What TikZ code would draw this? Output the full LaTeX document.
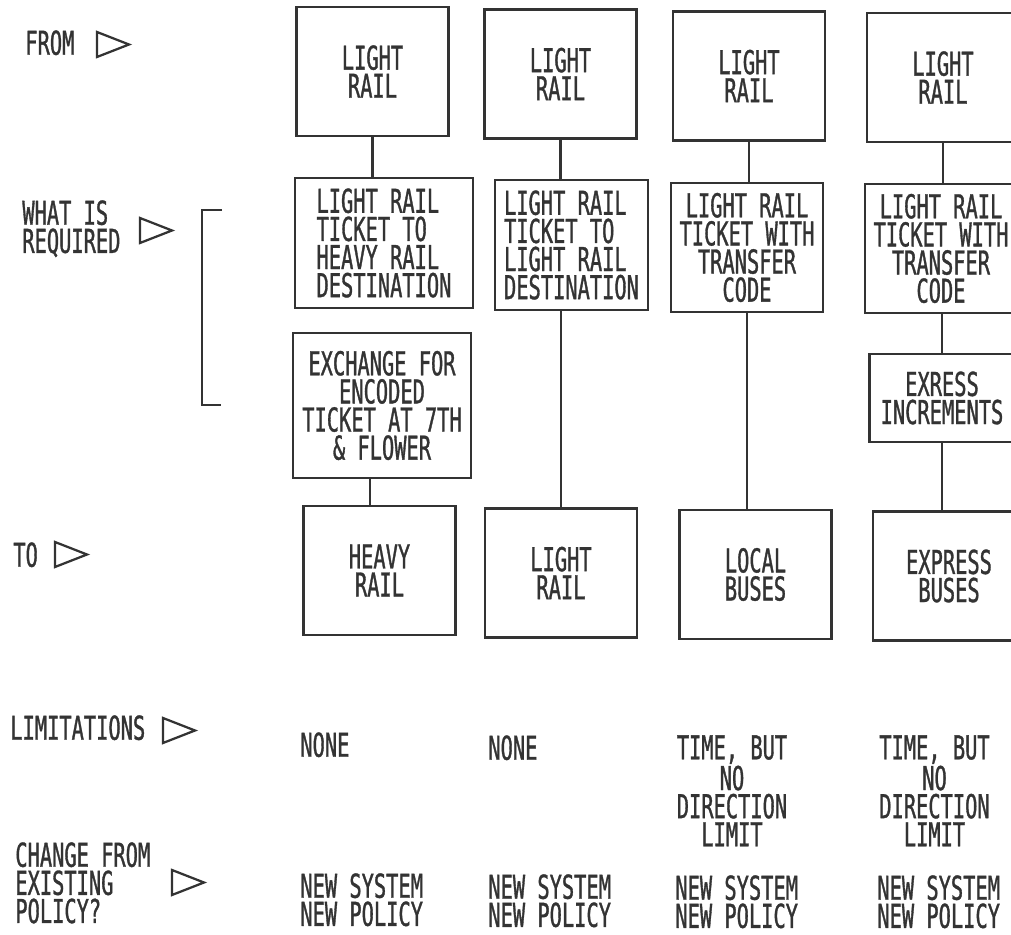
\documentclass[tikz,border=0pt]{standalone}
\usepackage{fontspec}
\setmainfont{DejaVu Sans Mono}[FakeStretch=0.62,FakeBold=1]
\definecolor{ink}{gray}{0.2}
\tikzset{mode/.style={rectangle,draw=ink,line width=0.045cm,minimum width=3.04cm,minimum height=2.58cm,inner sep=0pt,align=center},
    wide mode/.style={mode,minimum width=3.56cm},
    lbl/.style={inner sep=0pt,anchor=north west,align=left},
    link/.style={line width=0.045cm},
    pointer/.pic={\draw[line width=0.045cm,line join=miter] (0,0) -- (32,12.5) -- (0,25) -- cycle;}}

\begin{document}
\begin{tikzpicture}[x=0.02cm,y=-0.02cm,color=ink,font=\fontsize{18.7}{16}\selectfont]
    \useasboundingbox (0,0) rectangle (1011,935);

    % from
    \node [mode] (from1) at (372.5,71.5) {LIGHT\\RAIL};
    \node [mode] (from2) at (560.5,74) {LIGHT\\RAIL};
    \node [mode] (from3) at (749,76) {LIGHT\\RAIL};
    \node [mode] (from4) at (943,77.5) {LIGHT\\RAIL};

    % what is required
    \node [wide mode, minimum height=2.6cm, align=left] (need1) at (384,243) {LIGHT RAIL\\TICKET TO\\HEAVY RAIL\\DESTINATION};
    \node [mode, minimum width=3.06cm, minimum height=2.6cm, align=left] (need2) at (571.5,245) {LIGHT RAIL\\TICKET TO\\LIGHT RAIL\\DESTINATION};
    \node [mode] (need3) at (747,247.5) {LIGHT RAIL\\TICKET WITH\\TRANSFER\\CODE};
    \node [mode] (need4) at (941,248.5) {LIGHT RAIL\\TICKET WITH\\TRANSFER\\CODE};
    \node [wide mode, minimum height=2.9cm] (swap1) at (382,405.5) {EXCHANGE FOR\\ENCODED\\TICKET AT 7TH\\\& FLOWER};
    \node [mode, minimum width=2.9cm, minimum height=1.76cm] (incr4) at (942,398) {EXRESS\\INCREMENTS};

    % to
    \node [mode] (to1) at (379.5,570.5) {HEAVY\\RAIL};
    \node [mode] (to2) at (561,573) {LIGHT\\RAIL};
    \node [mode] (to3) at (755.5,574.5) {LOCAL\\BUSES};
    \node [mode] (to4) at (949,576) {EXPRESS\\BUSES};

    \foreach \c in {1,...,4}
        \draw [link] (from\c.south) -- (from\c.south |- need\c.north);
    \draw [link] ([xshift=-0.24cm]swap1.south) -- ([xshift=-0.24cm]swap1.south |- to1.north);
    \draw [link] (need2.south -| to2.north) -- (to2.north);
    \draw [link] (need3.south) -- (need3.south |- to3.north);
    \draw [link] (need4.south -| incr4.north) -- (incr4.north);
    \draw [link] (incr4.south) -- (incr4.south |- to4.north);

    % row labels
    \node [lbl] (fromlabel) at (25,30) {FROM};
    \pic at (97,32) {pointer};
    \node [lbl] (needlabel) at (22,200) {WHAT IS\\REQUIRED};
    \pic at (140,218) {pointer};
    \draw [link] (222,210) -- (202,210) -- (202,405) -- (221,405);
    \node [lbl] (tolabel) at (13,542) {TO};
    \pic at (55,542) {pointer};
    \node [lbl] (limlabel) at (10,715) {LIMITATIONS};
    \pic at (163,718) {pointer};
    \node [lbl] (chglabel) at (15,842) {CHANGE FROM\\EXISTING\\POLICY?};
    \pic at (172,870) {pointer};

    % limitations
    \node [lbl] (lim1) at (300,732) {NONE};
    \node [lbl] (lim2) at (488,735) {NONE};
    \node [lbl, anchor=north, align=center] (lim3) at (732,735) {TIME, BUT\\NO\\DIRECTION\\LIMIT};
    \node [lbl, anchor=north, align=center] (lim4) at (934.5,735) {TIME, BUT\\NO\\DIRECTION\\LIMIT};

    % change from existing policy
    \node [lbl] (chg1) at (300,873) {NEW SYSTEM\\NEW POLICY};
    \node [lbl] (chg2) at (488,874) {NEW SYSTEM\\NEW POLICY};
    \node [lbl] (chg3) at (675,875) {NEW SYSTEM\\NEW POLICY};
    \node [lbl] (chg4) at (877,875) {NEW SYSTEM\\NEW POLICY};
\end{tikzpicture}
\end{document}
